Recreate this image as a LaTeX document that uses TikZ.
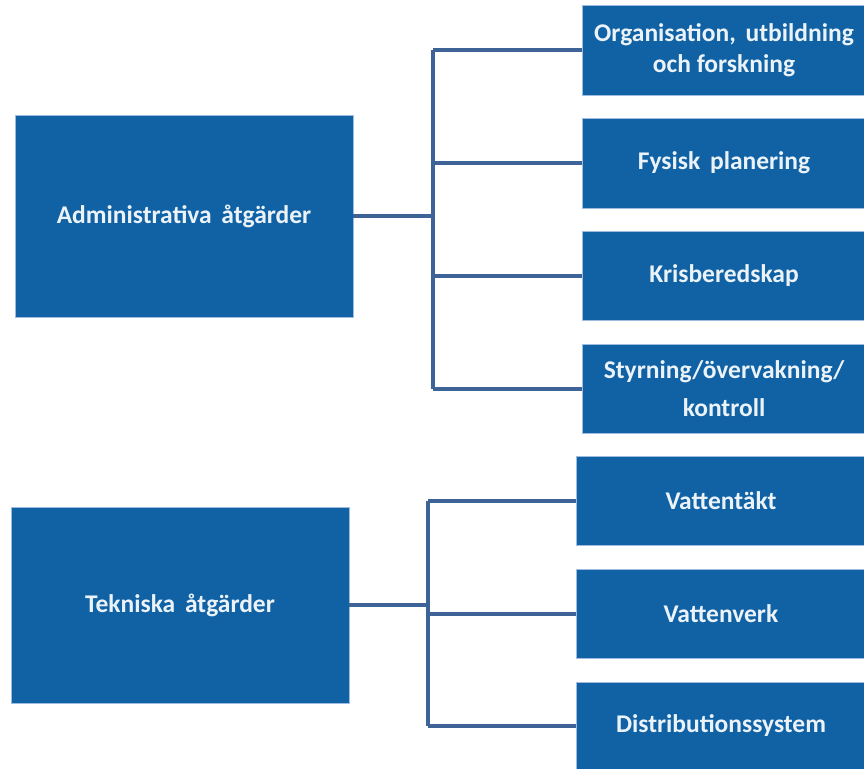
\documentclass[tikz,border=0pt]{standalone}
\usepackage{fontspec}
\setmainfont{Carlito}
\definecolor{boxblue}{HTML}{1062A5}
\definecolor{edgeblue}{HTML}{9DBCE0}
\definecolor{linkblue}{HTML}{3E6497}
\newcommand{\wsp}{\ \hspace{4pt}}
\begin{document}
\begin{tikzpicture}[x=1pt,y=-1pt,
  box/.style={fill=boxblue,draw=edgeblue,line width=0.6pt,text=white!92!boxblue,
    font=\bfseries\fontsize{25.5}{31}\selectfont,align=center,inner sep=0pt},
  link/.style={draw=linkblue,line width=4pt}]
\useasboundingbox (0,0) rectangle (864,768);
% left boxes
\node[box,minimum width=338pt,minimum height=202pt] (adm) at (184,216) {Administrativa\wsp åtgärder};
\node[box,minimum width=338pt,minimum height=196pt] (tek) at (180,605) {Tekniska\wsp åtgärder};
% right boxes, top group
\node[box,minimum width=284pt,minimum height=90pt] (org) at (724,50) {Organisation,\wsp utbildning\\och forskning};
\node[box,minimum width=284pt,minimum height=90pt] (fys) at (724,163) {Fysisk\wsp planering};
\node[box,minimum width=284pt,minimum height=89pt] (kris) at (724,276) {Krisberedskap};
\node[box,minimum width=284pt,minimum height=89pt,font=\bfseries\fontsize{25.5}{38}\selectfont] (sty) at (724,389) {Styrning/övervakning/\\kontroll};
% right boxes, bottom group
\node[box,minimum width=290pt,minimum height=89pt] (vt) at (721,501) {Vattentäkt};
\node[box,minimum width=290pt,minimum height=89pt] (vv) at (721,614) {Vattenverk};
\node[box,minimum width=290pt,minimum height=88pt] (ds) at (721,726) {Distributionssystem};
% junction coordinates
\coordinate (ja) at (433,216);
\coordinate (jt) at (428,605);
% top connectors
\draw[link] (adm.east) -- (ja);
\draw[link] (org.west -| ja) -- (sty.west -| ja);
\draw[link] (org.west -| ja) -- (org.west);
\draw[link] (fys.west -| ja) -- (fys.west);
\draw[link] (kris.west -| ja) -- (kris.west);
\draw[link] (sty.west -| ja) -- (sty.west);
% bottom connectors
\draw[link] (tek.east) -- (jt);
\draw[link] (vt.west -| jt) -- (ds.west -| jt);
\draw[link] (vt.west -| jt) -- (vt.west);
\draw[link] (vv.west -| jt) -- (vv.west);
\draw[link] (ds.west -| jt) -- (ds.west);
\end{tikzpicture}
\end{document}
